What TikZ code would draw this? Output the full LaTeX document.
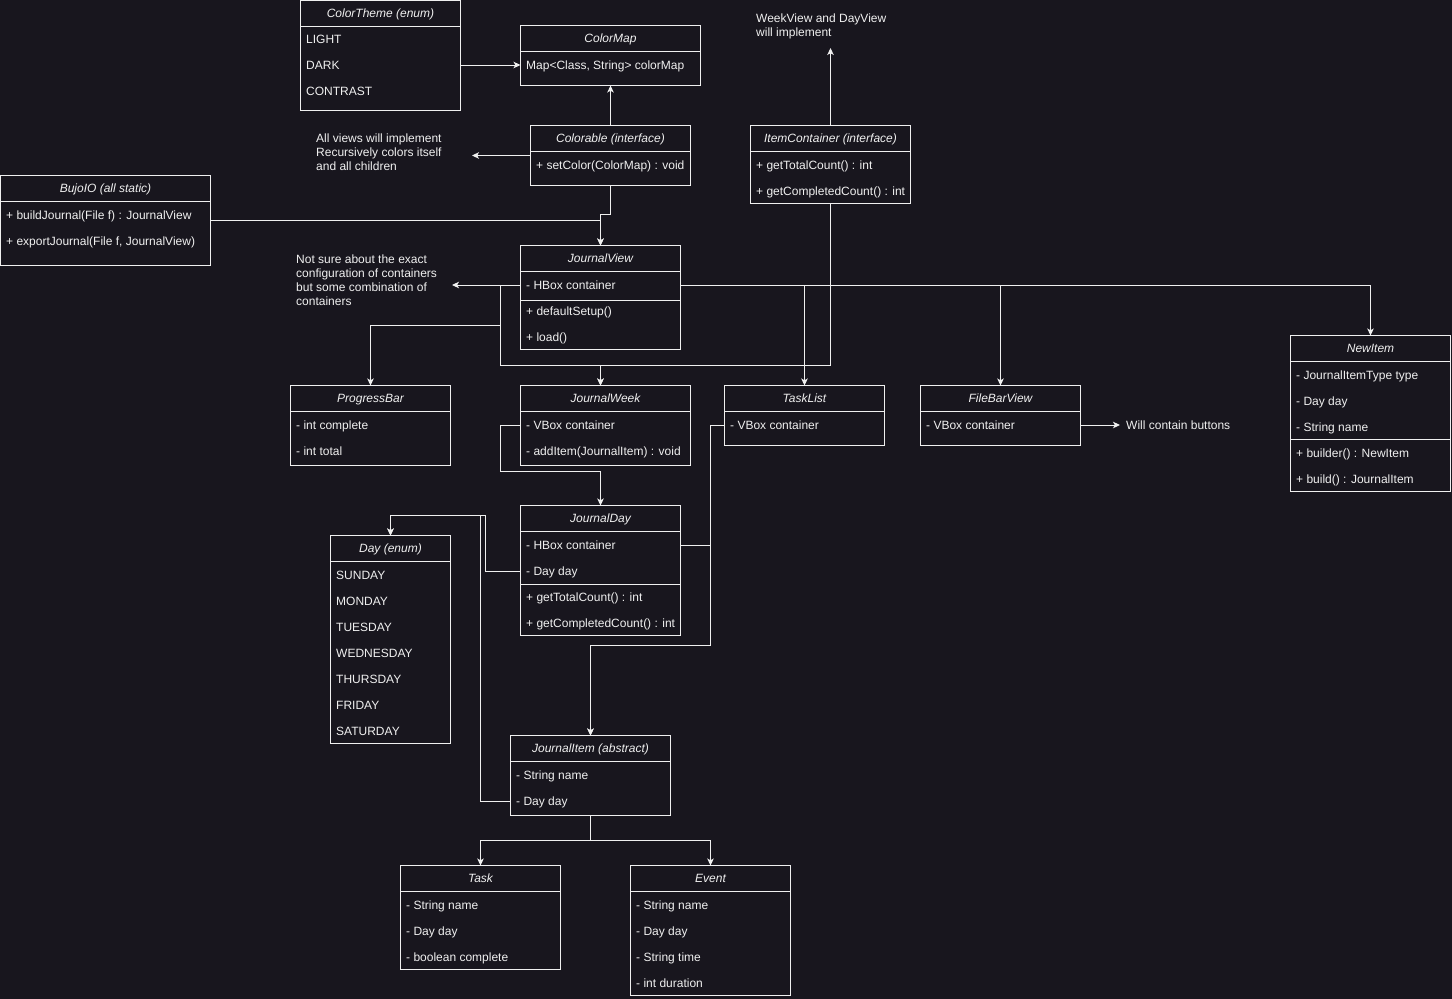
\documentclass[tikz,border=0pt]{standalone}
\usepackage{fontspec}
\setmainfont{Liberation Sans}
\usetikzlibrary{arrows.meta,calc}
\definecolor{bgc}{RGB}{24,22,30}
\definecolor{fgc}{RGB}{240,240,240}
\tikzset{
 ln/.style={draw=fgc, line width=1pt},
 arr/.style={ln, -{Stealth[length=7pt,width=6.5pt,inset=1.8pt]}},
 boxst/.style={ln, rectangle, inner sep=0pt, outer sep=0pt, anchor=north west},
 rowtxt/.style={text=fgc, anchor=west, inner sep=0pt, text height=8.6pt, text depth=0pt, font=\fontsize{12}{14}\selectfont},
 titletxt/.style={text=fgc, anchor=center, inner sep=0pt, text height=8.6pt, text depth=0pt, font=\fontsize{12}{14}\selectfont\itshape},
 notetxt/.style={text=fgc, anchor=west, inner sep=0pt, align=left, font=\fontsize{12}{14}\selectfont},
}
\newcommand\umlbox[6]{%
 \node[boxst, minimum width=#4pt, minimum height=#5pt] (#1) at (#2,#3) {};
 \draw[ln] ($(#1.north west)+(0,26)$) -- ($(#1.north east)+(0,26)$);
 \node[titletxt] (#1-title) at ($(#1.north)+(0,13)$) {#6};
}
\newcommand\umlrow[4]{\node[rowtxt] (#1) at (#2,#3) {#4};}
\newcommand\umlsep[2]{\draw[ln] ($(#1.north west)+(0,#2)$) -- ($(#1.north east)+(0,#2)$);}
\begin{document}
\begin{tikzpicture}[x=1pt,y=-1pt]
\fill[bgc] (0,0) rectangle (1452,999);
\useasboundingbox (0,0) rectangle (1452,999);

\umlbox{ctheme}{300.5}{0.5}{160}{110}{ColorTheme (enum)}
\umlrow{ctL}{306}{39}{LIGHT}
\umlrow{ctD}{306}{65}{DARK}
\umlrow{ctC}{306}{91}{CONTRAST}

\umlbox{cmap}{520.5}{25.5}{180}{60}{ColorMap}
\umlrow{cmM}{526}{65}{Map<Class, String> colorMap}

\umlbox{colorable}{530.5}{125.5}{160}{60}{Colorable (interface)}
\umlrow{clS}{536}{165}{+ setColor(ColorMap) : void}

\umlbox{itemc}{750.5}{125.5}{160}{78}{ItemContainer (interface)}
\umlrow{icT}{756}{165}{+ getTotalCount() : int}
\umlrow{icC}{756}{191}{+ getCompletedCount() : int}

\umlbox{bujo}{0.5}{175.5}{210}{90}{BujoIO (all static)}
\umlrow{bjB}{6}{215}{+ buildJournal(File f) : JournalView}
\umlrow{bjE}{6}{241}{+ exportJournal(File f, JournalView)}

\umlbox{jview}{520.5}{245.5}{160}{104}{JournalView}
\umlrow{jvH}{526}{285}{- HBox container}
\umlsep{jview}{55}
\umlrow{jvD}{526}{311}{+ defaultSetup()}
\umlrow{jvL}{526}{337}{+ load()}

\umlbox{progress}{290.5}{385.5}{160}{80}{ProgressBar}
\umlrow{pbC}{296}{425}{- int complete}
\umlrow{pbT}{296}{451}{- int total}

\umlbox{jweek}{520.5}{385.5}{170}{80}{JournalWeek}
\umlrow{jwV}{526}{425}{- VBox container}
\umlrow{jwA}{526}{451}{- addItem(JournalItem) : void}

\umlbox{tasklist}{724.5}{385.5}{160}{60}{TaskList}
\umlrow{tlV}{730}{425}{- VBox container}

\umlbox{filebar}{920.5}{385.5}{160}{60}{FileBarView}
\umlrow{fbV}{926}{425}{- VBox container}

\umlbox{newitem}{1290.5}{335.5}{160}{156}{NewItem}
\umlrow{niT}{1296}{375}{- JournalItemType type}
\umlrow{niD}{1296}{401}{- Day day}
\umlrow{niN}{1296}{427}{- String name}
\umlsep{newitem}{104}
\umlrow{niB}{1296}{453}{+ builder() : NewItem}
\umlrow{niU}{1296}{479}{+ build() : JournalItem}

\umlbox{jday}{520.5}{505.5}{160}{130}{JournalDay}
\umlrow{jdH}{526}{545}{- HBox container}
\umlrow{jdD}{526}{571}{- Day day}
\umlsep{jday}{79}
\umlrow{jdT}{526}{597}{+ getTotalCount() : int}
\umlrow{jdC}{526}{623}{+ getCompletedCount() : int}

\umlbox{dayenum}{330.5}{535.5}{120}{208}{Day (enum)}
\umlrow{dSu}{336}{575}{SUNDAY}
\umlrow{dMo}{336}{601}{MONDAY}
\umlrow{dTu}{336}{627}{TUESDAY}
\umlrow{dWe}{336}{653}{WEDNESDAY}
\umlrow{dTh}{336}{679}{THURSDAY}
\umlrow{dFr}{336}{705}{FRIDAY}
\umlrow{dSa}{336}{731}{SATURDAY}

\umlbox{jitem}{510.5}{735.5}{160}{80}{JournalItem (abstract)}
\umlrow{jiN}{516}{775}{- String name}
\umlrow{jiD}{516}{801}{- Day day}

\umlbox{task}{400.5}{865.5}{160}{104}{Task}
\umlrow{tN}{406}{905}{- String name}
\umlrow{tD}{406}{931}{- Day day}
\umlrow{tC}{406}{957}{- boolean complete}

\umlbox{event}{630.5}{865.5}{160}{130}{Event}
\umlrow{eN}{636}{905}{- String name}
\umlrow{eD}{636}{931}{- Day day}
\umlrow{eT}{636}{957}{- String time}
\umlrow{eU}{636}{983}{- int duration}

\node[notetxt] (note1) at (316,152) {All views will implement\\Recursively colors itself\\and all children};
\node[notetxt] (note2) at (296,280) {Not sure about the exact\\configuration of containers\\but some combination of\\containers};
\node[notetxt] (note3) at (756,26) {WeekView and DayView\\will implement};
\node[notetxt] (note4) at (1126,425) {Will contain buttons};

\coordinate (n1tip) at (472,155.5);
\coordinate (n2tip) at (452,285);
\coordinate (n3tip) at (830.5,48);
\coordinate (n4tip) at (1120,425);

\draw[arr] (ctD -| ctheme.east) -- (ctD -| cmap.west);
\draw[arr] (colorable.north) -- (cmap.south);
\draw[arr] (colorable.west) -- (n1tip);
\draw[arr] (colorable.south) -- ++(0,29) -| (jview.north);
\draw[arr] (bujo.east) -| (jview.north);
\draw[arr] (jvH -| jview.west) -- (n2tip);
\draw[arr] (jvH -| jview.west) -| (500.5,325.5) -| (progress.north);
\draw[arr] (jvH -| jview.west) -| (500.5,365.5) -| (jview.south |- jweek.north);
\draw[arr] (itemc.south) |- (600.5,365.5) -- (jview.south |- jweek.north);
\draw[arr] (itemc.north) -- (n3tip);
\draw[arr] (jvH -| jview.east) -| (newitem.north);
\draw[arr] (jvH -| jview.east) -| (tasklist.north);
\draw[arr] (jvH -| jview.east) -| (filebar.north);
\draw[arr] (fbV -| filebar.east) -- (n4tip);
\draw[arr] (jwV -| jweek.west) -| (500.5,471) -| (jday.north);
\draw[arr] (tlV -| tasklist.west) -| (710.5,645.5) -| (jitem.north);
\draw[arr] (jdH -| jday.east) -| (710.5,645.5) -| (jitem.north);
\draw[arr] (jdD -| jday.west) -| (485.5,515.5) -| (dayenum.north);
\draw[arr] (jiD -| jitem.west) -| (480.5,515.5) -| (dayenum.north);
\draw[arr] (jitem.south) -- ++(0,25) -| (task.north);
\draw[arr] (jitem.south) -- ++(0,25) -| (event.north);
\end{tikzpicture}
\end{document}
